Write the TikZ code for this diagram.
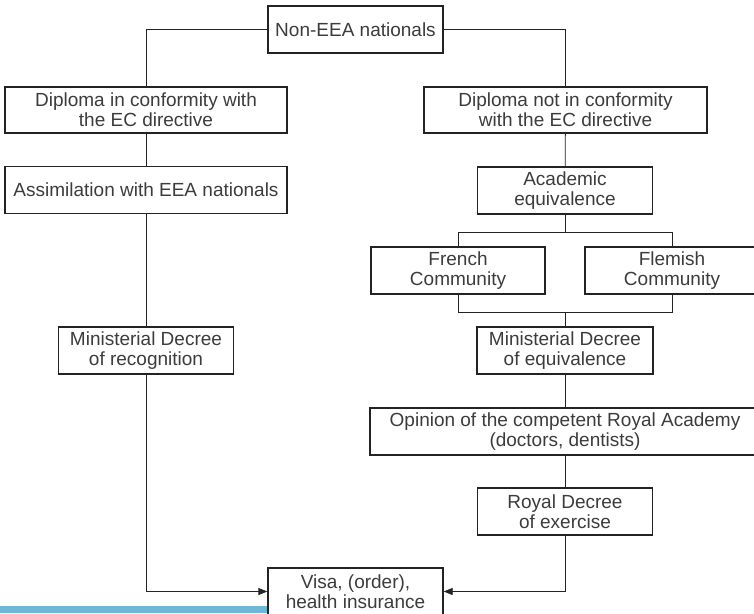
\documentclass[tikz,border=0pt]{standalone}
\usepackage{fontspec}
\setmainfont{Liberation Sans}
\usetikzlibrary{arrows.meta}
\definecolor{barblue}{RGB}{110,184,214}
\definecolor{ink}{RGB}{35,35,35}
\definecolor{txt}{RGB}{60,60,60}
\begin{document}
\begin{tikzpicture}[x=1pt,y=-1pt,
  box/.style={draw=ink, line width=1.3pt, fill=white, align=center, inner sep=0pt,
    minimum height=47pt, font=\fontsize{19}{20}\selectfont, text=txt},
  link/.style={draw=ink, line width=0.8pt},
  arr/.style={link, -{Triangle[length=9pt,width=7pt]}}]
\useasboundingbox (0,0) rectangle (754,613);
\clip (0,0) rectangle (754,613);
\fill[barblue] (0,606) rectangle (268,613);
\node[box, minimum width=175pt] (non) at (355.5,29.5) {Non-EEA nationals};
\node[box, minimum width=282pt, minimum height=46pt] (dipIn) at (146,110) {Diploma in conformity with\\the EC directive};
\node[box, minimum width=283pt, minimum height=46pt] (dipNot) at (565.5,110) {Diploma not in conformity\\with the EC directive};
\node[box, minimum width=282pt] (assim) at (146,190) {Assimilation with EEA nationals};
\node[box, minimum width=175pt] (acad) at (565,190.5) {Academic\\equivalence};
\node[box, minimum width=174pt] (french) at (458,270.5) {French\\Community};
\node[box, minimum width=174pt] (flem) at (672,270.5) {Flemish\\Community};
\node[box, minimum width=176pt] (mdEq) at (565,350.5) {Ministerial Decree\\of equivalence};
\node[box, minimum width=175pt] (mdRec) at (146,350.5) {Ministerial Decree\\of recognition};
\node[box, minimum width=390pt] (opin) at (565,431.5) {Opinion of the competent Royal Academy\\(doctors, dentists)};
\node[box, minimum width=175pt] (royal) at (565,511.5) {Royal Decree\\of exercise};
\node[box, minimum width=175pt] (visa) at (355.5,591.5) {Visa, (order),\\health insurance};
\coordinate (split) at (565,232);
\coordinate (merge) at (565,312);
\draw[link] (non.west) -| (dipIn.north);
\draw[link] (non.east) -| (dipNot.north);
\draw[link] (dipIn) -- (assim);
\draw[link] (assim) -- (mdRec);
\draw[arr] (mdRec.south) |- (visa.west);
\draw[link] (dipNot) -- (acad);
\draw[link] (acad.south) -- (split);
\draw[link] (french.north) -- (french.north |- split) -- (flem.north |- split) -- (flem.north);
\draw[link] (french.south) -- (french.south |- merge) -- (flem.south |- merge) -- (flem.south);
\draw[link] (merge) -- (mdEq.north);
\draw[link] (mdEq) -- (opin);
\draw[link] (opin) -- (royal);
\draw[arr] (royal.south) |- (visa.east);
\end{tikzpicture}
\end{document}
